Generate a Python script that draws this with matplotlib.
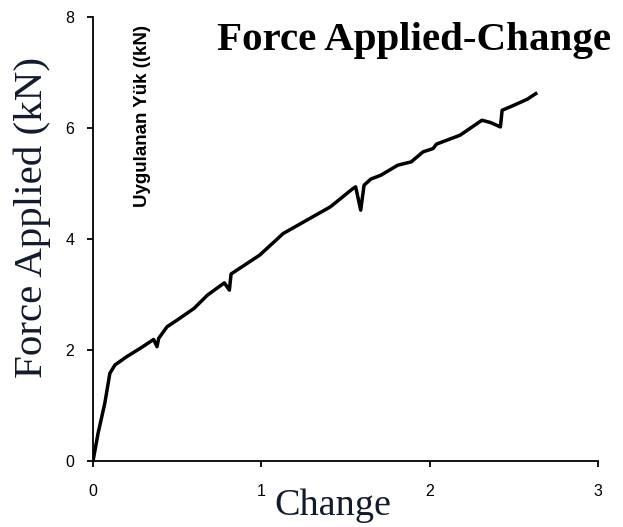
import matplotlib
matplotlib.use('Agg')
import matplotlib.pyplot as plt

# curve
change = [0, 0.03, 0.07, 0.10, 0.13, 0.20, 0.28, 0.36, 0.38, 0.39, 0.44, 0.50,
          0.60, 0.68, 0.78, 0.81, 0.82, 0.87, 0.99, 1.13, 1.27, 1.41, 1.54,
          1.56, 1.59, 1.61, 1.65, 1.71, 1.81, 1.89, 1.96, 2.02, 2.04, 2.18,
          2.31, 2.36, 2.42, 2.43, 2.50, 2.58, 2.63]
force = [0, 0.50, 1.04, 1.58, 1.73, 1.88, 2.03, 2.19, 2.06, 2.21, 2.42, 2.54,
         2.75, 2.99, 3.21, 3.08, 3.37, 3.47, 3.71, 4.10, 4.34, 4.58, 4.90,
         4.94, 4.52, 4.97, 5.08, 5.15, 5.33, 5.39, 5.57, 5.63, 5.71, 5.87,
         6.14, 6.10, 6.02, 6.32, 6.41, 6.52, 6.62]

x_ticks = [0, 1, 2, 3]
y_ticks = [0, 2, 4, 6, 8]

label_col = '#111b2c'

fig = plt.figure(figsize=(6.23, 5.27), dpi=100)
ax = fig.add_axes([0.1493, 0.1252, 0.8107, 0.8425])

ax.plot(change, force, color='black', lw=2.5, solid_joinstyle='round')

ax.set_xlim(0, 3)
ax.set_ylim(0, 8)
ax.set_xticks(x_ticks)
ax.set_yticks(y_ticks)
ax.spines['top'].set_visible(False)
ax.spines['right'].set_visible(False)
for s in ['left', 'bottom']:
    ax.spines[s].set_linewidth(1.3)
ax.tick_params(direction='out', length=4.5, width=1.3, labelsize=11.5)
ax.tick_params(axis='x', pad=12)
ax.tick_params(axis='y', pad=9)
for lab in ax.get_xticklabels() + ax.get_yticklabels():
    lab.set_family('Liberation Sans')

fig.text(0.0514, 0.587, 'Force Applied (kN)', rotation=90, ha='center', va='center',
         family='Liberation Serif', fontsize=29.5, color=label_col)
fig.text(0.5345, 0.022, 'Change', ha='center', va='baseline',
         family='Liberation Serif', fontsize=27.5, color=label_col)
fig.text(0.6645, 0.905, 'Force Applied-Change', ha='center', va='baseline',
         family='Liberation Serif', fontweight='bold', fontsize=29.5, color='black')
fig.text(0.2295, 0.78, 'Uygulanan Yük ((kN)', rotation=90, ha='center', va='center',
         family='Liberation Sans', fontweight='bold', fontsize=13.5, color='black')

fig.savefig('out.png', dpi=100)
